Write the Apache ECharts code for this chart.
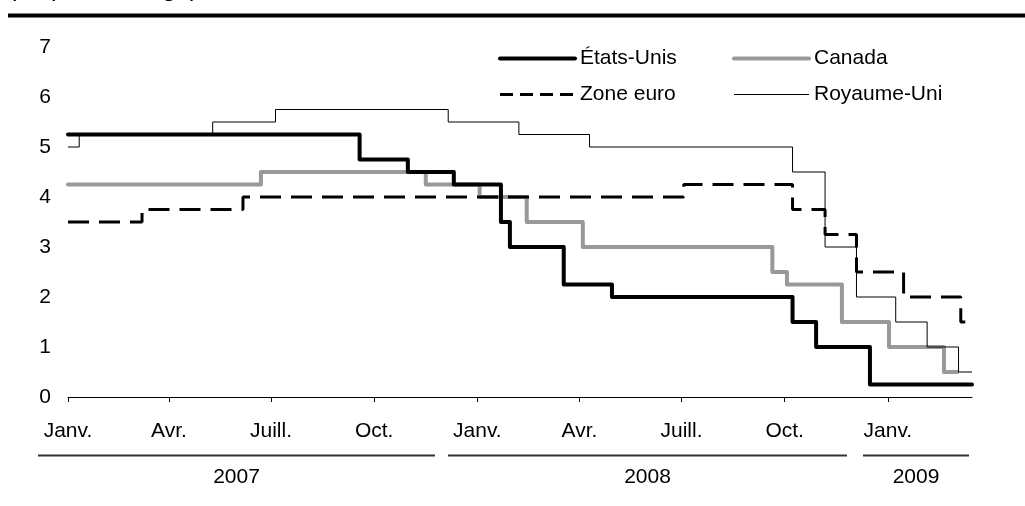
<!DOCTYPE html>
<html>
<head>
<meta charset="utf-8">
<script src="https://cdn.jsdelivr.net/npm/echarts@6/dist/echarts.min.js"></script>
<style>
  html, body { margin: 0; padding: 0; background: #fff; }
  #chart { width: 1025px; height: 506px; }
</style>
</head>
<body>
<div id="chart"></div>
<script>
// axis ticks (quarters) and years
var tickDates = ['2007-01-01', '2007-04-01', '2007-07-01', '2007-10-01', '2008-01-01', '2008-04-01', '2008-07-01', '2008-10-01', '2009-01-01'];
var tickLabels = ['Janv.', 'Avr.', 'Juill.', 'Oct.', 'Janv.', 'Avr.', 'Juill.', 'Oct.', 'Janv.'];
var yearLabels = ['2007', '2008', '2009'];

// policy rates, one point per change (step chart)
var usDates = ['2007-01-01', '2007-09-18', '2007-10-31', '2007-12-11', '2008-01-22', '2008-01-30', '2008-03-18', '2008-04-30', '2008-10-08', '2008-10-29', '2008-12-16', '2009-03-17'];
var usRates = [5.25, 4.75, 4.5, 4.25, 3.5, 3.0, 2.25, 2.0, 1.5, 1.0, 0.25, 0.25];

var caDates = ['2007-01-01', '2007-06-22', '2007-11-16', '2008-01-03', '2008-02-14', '2008-04-04', '2008-09-20', '2008-10-03', '2008-11-21', '2009-01-02', '2009-02-20', '2009-03-04'];
var caRates = [4.25, 4.5, 4.25, 4.0, 3.5, 3.0, 2.5, 2.25, 1.5, 1.0, 0.5, 0.5];

var euDates = ['2007-01-01', '2007-03-08', '2007-06-06', '2008-07-03', '2008-10-08', '2008-11-06', '2008-12-04', '2009-01-15', '2009-03-07', '2009-03-11'];
var euRates = [3.5, 3.75, 4.0, 4.25, 3.75, 3.25, 2.5, 2.0, 1.5, 1.5];

var ukDates = ['2007-01-01', '2007-01-11', '2007-05-10', '2007-07-05', '2007-12-06', '2008-02-07', '2008-04-10', '2008-10-08', '2008-11-06', '2008-12-04', '2009-01-08', '2009-02-05', '2009-03-05', '2009-03-17'];
var ukRates = [5.0, 5.25, 5.5, 5.75, 5.5, 5.25, 5.0, 4.5, 3.0, 2.0, 1.5, 1.0, 0.5, 0.5];

var FONT = '"Liberation Sans", Arial, sans-serif';

// x axis is "days since 1 Jan 2007"
function toDay(s) {
  var p = s.split('-');
  return Math.round((Date.UTC(+p[0], +p[1] - 1, +p[2]) - Date.UTC(2007, 0, 1)) / 86400000);
}
function pairs(dates, vals) {
  return dates.map(function (d, i) { return [toDay(d), vals[i]]; });
}

var tickDays = tickDates.map(toDay);

// year brackets under the axis (pixel layout)
var yearSpans = [[38, 435], [448, 847], [863, 969]];
var graphics = [
  { type: 'text', x: 8, y: 2, style: { text: '(en pourcentage)', fontSize: 25, fontFamily: FONT, fill: '#000', verticalAlign: 'bottom' } },
  { type: 'line', shape: { x1: 8, y1: 15.5, x2: 1025, y2: 15.5 }, style: { stroke: '#000', lineWidth: 4 } }
];
yearLabels.forEach(function (y, i) {
  var s = yearSpans[i];
  graphics.push({ type: 'line', shape: { x1: s[0], y1: 455.5, x2: s[1], y2: 455.5 }, style: { stroke: '#333', lineWidth: 2 } });
  graphics.push({ type: 'text', x: (s[0] + s[1]) / 2, y: 477, style: { text: y, fontSize: 21, fontFamily: FONT, fill: '#000', align: 'center', verticalAlign: 'middle' } });
});

var chart = echarts.init(document.getElementById('chart'));

var legendBase = {
  top: 48, orient: 'vertical', padding: 0,
  itemWidth: 75, itemHeight: 14, itemGap: 15,
  itemStyle: { opacity: 0 },
  textStyle: { fontSize: 21, color: '#000', fontFamily: FONT }
};

var option = {
  animation: false,
  backgroundColor: '#fff',
  grid: { left: 68, right: 53, top: 47, bottom: 109 },
  legend: [
    Object.assign({}, legendBase, {
      left: 498,
      data: [
        { name: 'États-Unis', lineStyle: { width: 4 } },
        { name: 'Zone euro', lineStyle: { width: 3, type: [13, 7] } }
      ]
    }),
    Object.assign({}, legendBase, {
      left: 732,
      data: [
        { name: 'Canada', lineStyle: { width: 4 } },
        { name: 'Royaume-Uni', lineStyle: { width: 1 } }
      ]
    })
  ],
  xAxis: {
    type: 'value',
    min: 0,
    max: toDay('2009-03-17'),
    splitLine: { show: false },
    axisLine: { lineStyle: { color: '#000', width: 1 } },
    axisTick: { customValues: tickDays, length: 5, lineStyle: { color: '#000' } },
    axisLabel: {
      customValues: tickDays,
      fontSize: 21, color: '#000', fontFamily: FONT, margin: 24,
      formatter: function (v) {
        var i = tickDays.indexOf(v);
        return i >= 0 ? tickLabels[i] : '';
      }
    }
  },
  yAxis: {
    type: 'value',
    min: 0, max: 7, interval: 1,
    axisLine: { show: false },
    axisTick: { show: false },
    splitLine: { show: false },
    axisLabel: { fontSize: 21, color: '#000', fontFamily: FONT, margin: 17 }
  },
  series: [
    {
      name: 'Canada', type: 'line', step: 'end', symbol: 'none',
      itemStyle: { color: '#999' },
      lineStyle: { color: '#999', width: 4, cap: 'round', join: 'round' },
      data: pairs(caDates, caRates)
    },
    {
      name: 'Royaume-Uni', type: 'line', step: 'end', symbol: 'none',
      itemStyle: { color: '#000' },
      lineStyle: { color: '#000', width: 1 },
      data: pairs(ukDates, ukRates)
    },
    {
      name: 'Zone euro', type: 'line', step: 'end', symbol: 'none',
      itemStyle: { color: '#000' },
      lineStyle: { color: '#000', width: 3, type: [21, 10] },
      data: pairs(euDates, euRates)
    },
    {
      name: 'États-Unis', type: 'line', step: 'end', symbol: 'none',
      itemStyle: { color: '#000' },
      lineStyle: { color: '#000', width: 4, cap: 'round', join: 'round' },
      data: pairs(usDates, usRates)
    }
  ],
  graphic: graphics
};

chart.setOption(option);
</script>
</body>
</html>
